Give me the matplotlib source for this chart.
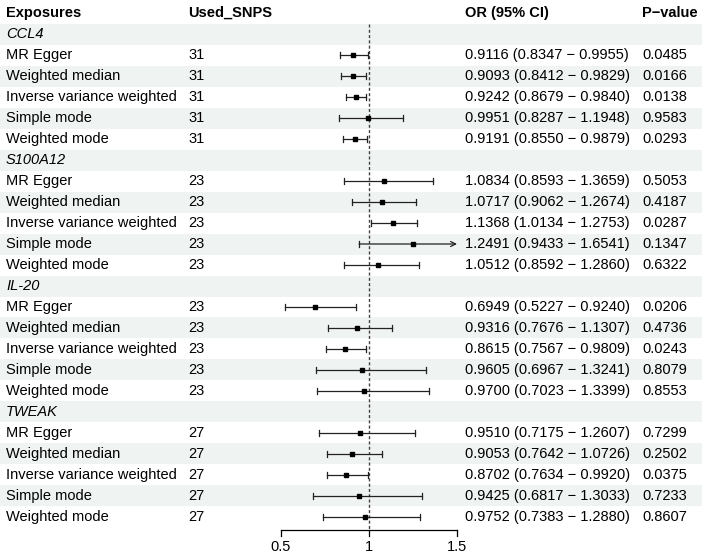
import numpy as np
import matplotlib
matplotlib.use("Agg")
import matplotlib.pyplot as plt

plt.rcParams['font.family'] = ['Liberation Sans', 'DejaVu Sans']

# chart data
groups = ["CCL4", "S100A12", "IL-20", "TWEAK"]
methods = ["MR Egger", "Weighted median", "Inverse variance weighted",
           "Simple mode", "Weighted mode"]
snps = [31, 23, 23, 27]
or_val = [
    [0.9116, 0.9093, 0.9242, 0.9951, 0.9191],
    [1.0834, 1.0717, 1.1368, 1.2491, 1.0512],
    [0.6949, 0.9316, 0.8615, 0.9605, 0.9700],
    [0.9510, 0.9053, 0.8702, 0.9425, 0.9752],
]
ci_low = [
    [0.8347, 0.8412, 0.8679, 0.8287, 0.8550],
    [0.8593, 0.9062, 1.0134, 0.9433, 0.8592],
    [0.5227, 0.7676, 0.7567, 0.6967, 0.7023],
    [0.7175, 0.7642, 0.7634, 0.6817, 0.7383],
]
ci_high = [
    [0.9955, 0.9829, 0.9840, 1.1948, 0.9879],
    [1.3659, 1.2674, 1.2753, 1.6541, 1.2860],
    [0.9240, 1.1307, 0.9809, 1.3241, 1.3399],
    [1.2607, 1.0726, 0.9920, 1.3033, 1.2880],
]
pvals = [
    [0.0485, 0.0166, 0.0138, 0.9583, 0.0293],
    [0.5053, 0.4187, 0.0287, 0.1347, 0.6322],
    [0.0206, 0.4736, 0.0243, 0.8079, 0.8553],
    [0.7299, 0.2502, 0.0375, 0.7233, 0.8607],
]
x_ticks = [0.5, 1, 1.5]
x_min, x_max = 0.5, 1.5

# layout (pixels of the 709x559 canvas)
W, H = 709, 559
row_h = 21.0
row0_y = 34.0
ci_left_px, ci_right_px = 281.0, 457.0
px_per_unit = (ci_right_px - ci_left_px) / (x_max - x_min)
col_x = [6, 188, 465, 642]
fs = 10.5

fig = plt.figure(figsize=(W / 100, H / 100), dpi=100)
ax = fig.add_axes([0, 0, 1, 1])
ax.set_xlim(x_min - ci_left_px / px_per_unit, x_min + (W - ci_left_px) / px_per_unit)
ax.set_ylim((H - row0_y) / row_h, -row0_y / row_h)
ax.axis('off')
tr = ax.get_yaxis_transform()

n_rows = len(groups) * (len(methods) + 1)

# zebra shading
for r in range(0, n_rows, 2):
    ax.axhspan(r - 0.5, r + 0.5, xmin=0, xmax=0.99, color='#eff3f2', lw=0, zorder=0)

# header
hdr = ["Exposures", "Used_SNPS", "OR (95% CI)", "P\u2212value"]
for x, t in zip(col_x, hdr):
    ax.text(x / W, -1, t, transform=tr, ha='left', va='center',
            fontsize=fs, fontweight='bold')

axis_y = 23.62
ax.plot([1, 1], [-0.5, axis_y], ls=(0, (2.2, 1.6)), color='#444444', lw=1, zorder=1)

r = 0
for g in range(len(groups)):
    ax.text(col_x[0] / W, r, groups[g], transform=tr, ha='left', va='center',
            fontsize=fs, fontstyle='italic')
    r += 1
    for m in range(len(methods)):
        o, lo, hi, p = or_val[g][m], ci_low[g][m], ci_high[g][m], pvals[g][m]
        ax.text(col_x[0] / W, r, methods[m], transform=tr, ha='left', va='center', fontsize=fs)
        ax.text(col_x[1] / W, r, str(snps[g]), transform=tr, ha='left', va='center', fontsize=fs)
        ax.text(col_x[2] / W, r, f"{o:.4f} ({lo:.4f} \u2212 {hi:.4f})", transform=tr,
                ha='left', va='center', fontsize=fs)
        ax.text(col_x[3] / W, r, f"{p:.4f}", transform=tr, ha='left', va='center', fontsize=fs)

        cap = 0.16
        lo_c, hi_c = max(lo, x_min), min(hi, x_max)
        if hi > x_max:
            ax.annotate("", xy=(x_max, r), xytext=(lo_c, r),
                        arrowprops=dict(arrowstyle='->', color='#222222', lw=0.9,
                                        shrinkA=0, shrinkB=0, mutation_scale=9), zorder=2)
        else:
            ax.plot([lo_c, hi_c], [r, r], color='#222222', lw=0.9, zorder=2)
            ax.plot([hi_c, hi_c], [r - cap, r + cap], color='#222222', lw=0.9, zorder=2)
        ax.plot([lo_c, lo_c], [r - cap, r + cap], color='#222222', lw=0.9, zorder=2)
        ax.plot(o, r, marker='s', ms=3.2, color='black', zorder=3)
        r += 1

# x axis of the forest column
tick_len = 0.3
ax.plot([x_min, x_max], [axis_y, axis_y], color='black', lw=0.9)
for t in x_ticks:
    ax.plot([t, t], [axis_y, axis_y + tick_len], color='black', lw=0.9)
    ax.text(t, axis_y + 0.8, f"{t:g}", ha='center', va='center', fontsize=fs)

fig.savefig("out.png", dpi=100)
